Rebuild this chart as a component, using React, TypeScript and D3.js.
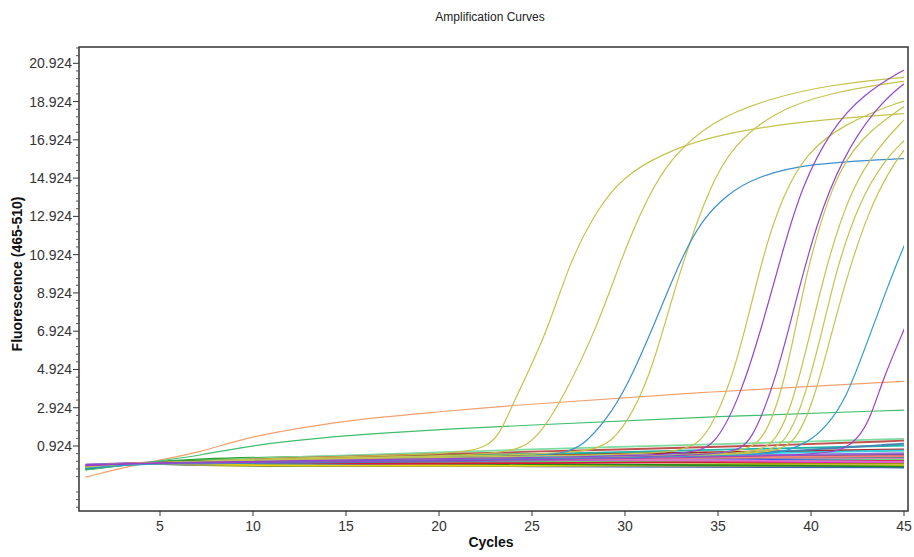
import React from 'react';
import * as d3 from 'd3';

type Pt = [number, number];

// axis ticks
const xTicks = [5, 10, 15, 20, 25, 30, 35, 40, 45];
const yTicks = d3.range(0, 11).map((k) => 0.924 + 2 * k);

// flat (non-amplifying) wells, sampled at these cycles
const baseCycles = [1, 2.3, 4.2, 7, 12, 20, 30, 38, 45];
const baseValues: number[][] = [
  [-0.1, -0.05, 0.04, 0.2, 0.3, 0.35, 0.4, 0.45, 0.5],
  [-0.05, -0.02, 0.04, 0.15, 0.25, 0.3, 0.35, 0.4, 0.45],
  [-0.3, -0.15, 0.04, 0.25, 0.35, 0.45, 0.55, 0.6, 0.7],
  [-0.2, -0.1, 0.04, 0.0, -0.05, -0.1, -0.1, -0.1, -0.1],
  [-0.15, -0.05, 0.04, 0.05, 0.1, 0.15, 0.2, 0.1, 0.05],
  [-0.2, -0.08, 0.04, -0.05, -0.08, 0.05, 0.15, 0.2, 0.25],
  [-0.1, -0.03, 0.04, 0.1, 0.2, 0.25, 0.3, 0.3, 0.3],
  [-0.25, -0.1, 0.04, 0.1, 0.25, 0.4, 0.5, 0.65, 0.75],
  [-0.3, -0.12, 0.04, 0.1, 0.2, 0.4, 0.6, 0.8, 0.95],
  [-0.2, -0.1, 0.04, 0.15, 0.35, 0.6, 0.9, 1.1, 1.3],
  [-0.25, -0.1, 0.04, 0.12, 0.3, 0.5, 0.75, 0.95, 1.2],
  [-0.15, -0.05, 0.04, -0.1, -0.12, -0.15, -0.05, 0.0, 0.0],
  [-0.2, -0.1, 0.04, -0.08, -0.1, -0.12, -0.15, -0.18, -0.2],
  [-0.1, -0.05, 0.04, -0.05, -0.1, -0.12, -0.1, -0.1, -0.1],
  [-0.05, 0.0, 0.04, 0.0, 0.1, 0.3, 0.35, 0.45, 0.55],
  [-0.25, -0.1, 0.04, 0.15, 0.2, 0.3, 0.4, 0.55, 0.7],
  [-0.3, -0.12, 0.04, 0.2, 0.1, 0.0, -0.05, -0.1, -0.15],
  [-0.2, -0.05, 0.04, 0.05, 0.0, 0.05, 0.1, 0.15, 0.2],
  [-0.15, -0.05, 0.04, 0.02, 0.05, 0.0, 0.05, 0.1, 0.15],
  [-0.1, -0.03, 0.04, 0.0, 0.05, 0.15, 0.25, 0.3, 0.35],
  [-0.12, -0.04, 0.04, 0.05, 0.15, 0.25, 0.2, 0.15, 0.1],
  [-0.2, -0.08, 0.04, 0.0, 0.05, 0.1, 0.3, 0.6, 1.05],
  [-0.15, -0.05, 0.04, 0.1, 0.15, 0.2, 0.25, 0.35, 0.4],
];
const baseColors = [
  '#7f7f7f', '#8040a0', '#2ca02c', '#e41a1c', '#ff00ff', '#3050ff', '#ff88bb', '#b22222',
  '#20b2aa', '#7fdca0', '#c0504d', '#999900', '#4060c0', '#e6d200', '#9370db', '#30d0e0',
  '#228b22', '#66dd66', '#dc143c', '#708090', '#da70d6', '#4682b4', '#fa8072',
];

// slow drifting wells
const orangeWell: Pt[] = [[1, -0.7], [4.1, 0.04], [7.3, 0.61], [9.1, 1.24], [12.7, 1.92], [16.3, 2.39], [19.9, 2.7], [23.4, 3.01], [34, 3.74], [45, 4.3]];
const greenWell: Pt[] = [[1, -0.33], [4.2, 0.04], [7.3, 0.45], [10, 0.97], [13.5, 1.34], [17, 1.6], [20.5, 1.81], [24, 1.97], [34, 2.44], [45, 2.8]];

// amplifying wells
const y1: Pt[] = [[1, -0.1], [4.2, 0.04], [12, 0.3], [18, 0.45], [21, 0.55], [22.6, 0.85], [23.3, 1.6], [24, 3.2], [25.8, 6.8], [27, 10.5], [28.5, 13.3], [29.9, 15.0], [32, 16.2], [34.6, 17.1], [38, 17.7], [41.5, 18.05], [45, 18.3], [45.3, 18.3]];
const y2: Pt[] = [[1, -0.15], [4.2, 0.04], [12, 0.25], [20, 0.4], [24, 0.55], [25.3, 1.3], [26.7, 3.5], [28.5, 7.1], [29.9, 11.0], [31.2, 13.9], [32.4, 15.9], [34.6, 17.9], [37.8, 19.1], [41, 19.8], [45, 20.2], [45.3, 20.2]];
const y3: Pt[] = [[1, -0.2], [4.2, 0.04], [15, 0.3], [24, 0.45], [28, 0.6], [29.3, 1.1], [30.4, 2.6], [31.5, 5.0], [32.9, 10.0], [34.6, 14.6], [35.8, 16.6], [38, 18.4], [41, 19.4], [45, 20.0], [45.3, 20.0]];
const b1: Pt[] = [[1, -0.2], [4.2, 0.04], [15, 0.2], [24, 0.35], [26.8, 0.5], [27.8, 1.0], [29, 2.3], [30.1, 4.0], [31.5, 7.1], [33, 10.7], [34.1, 12.7], [35.5, 14.1], [37.1, 15.0], [39.8, 15.7], [45, 15.95], [45.3, 15.95]];
const y4: Pt[] = [[1, -0.1], [4.2, 0.04], [15, 0.25], [28, 0.45], [33.1, 0.55], [34.4, 1.3], [35.8, 4.5], [36.7, 8.0], [37.6, 11.5], [38.5, 14.0], [39.7, 16.2], [41.8, 17.8], [45, 19.0], [45.3, 19.0]];
const p1: Pt[] = [[1, -0.05], [2.3, -0.05], [4.2, 0.04], [15, 0.2], [28, 0.35], [33.6, 0.5], [34.9, 0.95], [36.3, 3.8], [37.4, 7.3], [38.5, 11.2], [39.5, 14.5], [41.1, 17.5], [42.8, 19.3], [45, 20.6], [45.3, 20.7]];
const p2: Pt[] = [[1, -0.1], [4.2, 0.04], [15, 0.15], [30, 0.3], [35.7, 0.5], [36.8, 1.0], [38.2, 4.7], [39.1, 8.2], [40.3, 12.6], [41.7, 16.0], [43.4, 18.5], [45, 19.9], [45.3, 20.0]];
const y5: Pt[] = [[1, -0.1], [4.2, 0.04], [15, 0.2], [30, 0.35], [36.2, 0.55], [37.4, 1.1], [38.4, 3.6], [39.2, 7.2], [39.9, 10.6], [41.2, 14.8], [42.6, 17.0], [45, 18.7], [45.3, 18.8]];
const y6: Pt[] = [[1, -0.15], [4.2, 0.04], [15, 0.2], [30, 0.35], [36.8, 0.5], [38.1, 1.0], [39.1, 3.4], [40.1, 7.4], [41.0, 11.0], [42.2, 14.4], [43.5, 16.4], [45, 18.0], [45.3, 18.2]];
const y7: Pt[] = [[1, -0.2], [4.2, 0.04], [15, 0.15], [30, 0.3], [37.4, 0.5], [38.6, 1.0], [39.6, 3.2], [40.6, 6.9], [41.4, 10.3], [42.6, 13.7], [43.9, 15.8], [45, 16.9], [45.3, 17.1]];
const y8: Pt[] = [[1, -0.1], [4.2, 0.04], [15, 0.2], [30, 0.3], [37.8, 0.5], [39.1, 1.0], [40.1, 3.1], [41.1, 6.8], [42.0, 10.0], [43.1, 13.2], [44.2, 15.3], [45, 16.4], [45.3, 16.7]];
const b2: Pt[] = [[1, -0.25], [4.2, 0.04], [15, 0.1], [30, 0.3], [37.5, 0.45], [38.8, 0.7], [39.8, 1.1], [40.8, 1.9], [41.9, 3.4], [43, 6.3], [44.1, 9.2], [45, 11.4], [45.3, 12.0]];
const p3: Pt[] = [[1, -0.1], [4.2, 0.04], [15, 0.1], [30, 0.25], [40.5, 0.45], [41.8, 0.75], [42.6, 1.4], [43.2, 2.4], [43.9, 4.5], [45, 7.0], [45.3, 7.7]];

const YELLOW = '#c5c34c';
const PURPLE = '#9447cf';
const wells: { pts: Pt[]; color: string }[] = [
  { pts: orangeWell, color: '#f2a16f' },
  { pts: greenWell, color: '#3fbf6c' },
  { pts: y1, color: YELLOW },
  { pts: y2, color: YELLOW },
  { pts: y3, color: YELLOW },
  { pts: b1, color: '#3c8fd0' },
  { pts: y4, color: YELLOW },
  { pts: y5, color: YELLOW },
  { pts: y6, color: YELLOW },
  { pts: y7, color: YELLOW },
  { pts: y8, color: YELLOW },
  { pts: p1, color: PURPLE },
  { pts: p2, color: PURPLE },
  { pts: b2, color: '#2f9ccc' },
  { pts: p3, color: '#a040c8' },
];

const W = 914;
const H = 557;
const left = 79, right = 908, top = 47, bottom = 511;

export default function App() {
  const x = d3.scaleLinear().domain([0.645, 45.215]).range([left, right]);
  const y = d3.scaleLinear().domain([-2.473, 21.776]).range([bottom, top]);
  const line = d3.line<Pt>().x((d) => x(d[0])).y((d) => y(d[1])).curve(d3.curveBasis);

  const minorY = d3.range(-8, 53).filter((k) => k % 5 !== 0).map((k) => 0.924 + 0.4 * k);

  return (
    <svg width={W} height={H} style={{ position: 'absolute', left: 0, top: 0, background: '#fff' }}
      fontFamily="Arial, 'Liberation Sans', sans-serif">
      <defs>
        <clipPath id="plot">
          <rect x={left} y={top} width={right - left - 4} height={bottom - top} />
        </clipPath>
      </defs>
      <text x={490} y={21} textAnchor="middle" fontSize={12} fill="#222">Amplification Curves</text>

      <g clipPath="url(#plot)" fill="none" strokeWidth={1.8}>
        {baseValues.map((vals, i) => (
          <path key={'b' + i} d={line(vals.map((v, j) => [baseCycles[j], v] as Pt)) || ''} stroke={baseColors[i]} />
        ))}
        {wells.map((w, i) => (
          <path key={'w' + i} d={line(w.pts) || ''} stroke={w.color} strokeWidth={1.2} />
        ))}
      </g>

      <rect x={left} y={top} width={right - left} height={bottom - top} fill="none" stroke="#333" strokeWidth={1.5} />

      {xTicks.map((t) => (
        <g key={'x' + t}>
          <line x1={x(t)} x2={x(t)} y1={bottom} y2={bottom + 5} stroke="#333" />
          <text x={x(t)} y={531} textAnchor="middle" fontSize={14} fill="#333">{t}</text>
        </g>
      ))}
      {minorY.map((v, i) => (
        <line key={'m' + i} x1={left - 3} x2={left} y1={y(v)} y2={y(v)} stroke="#555" />
      ))}
      {yTicks.map((t) => (
        <g key={'y' + t}>
          <line x1={left - 6} x2={left} y1={y(t)} y2={y(t)} stroke="#333" />
          <text x={left - 7} y={y(t) + 5} textAnchor="end" fontSize={14} fill="#333">{t.toFixed(3)}</text>
        </g>
      ))}

      <text x={491} y={547} textAnchor="middle" fontSize={14} fontWeight="bold" fill="#111">Cycles</text>
      <text transform="translate(22,274) rotate(-90)" textAnchor="middle" fontSize={14} fontWeight="bold" fill="#111">
        Fluorescence (465-510)
      </text>
    </svg>
  );
}
